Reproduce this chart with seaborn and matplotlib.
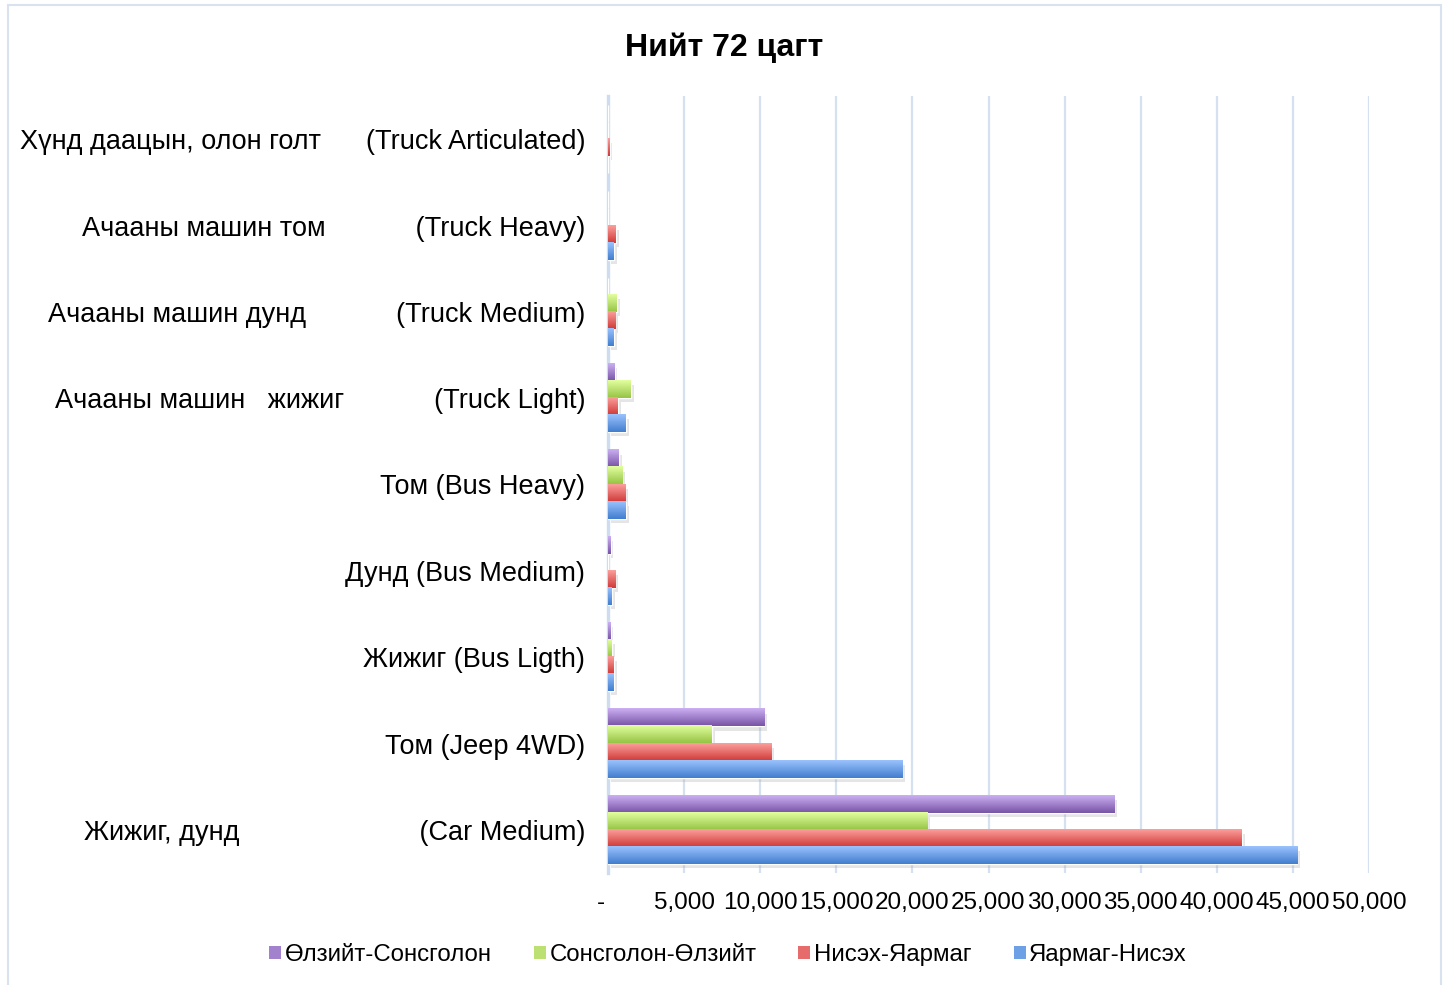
import numpy as np
import pandas as pd
import matplotlib
matplotlib.use("Agg")
import matplotlib.pyplot as plt
import matplotlib.patheffects as pe
from matplotlib.patches import Patch, Rectangle
from matplotlib.colors import LinearSegmentedColormap
import seaborn as sns

# ---- data -------------------------------------------------------------
categories = [
    "Хүнд даацын, олон голт      (Truck Articulated)",
    "Ачааны машин том            (Truck Heavy)",
    "Ачааны машин дунд            (Truck Medium)",
    "Ачааны машин   жижиг            (Truck Light)",
    "Том (Bus Heavy)",
    "Дунд (Bus Medium)",
    "Жижиг (Bus Ligth)",
    "Том (Jeep 4WD)",
    "Жижиг, дунд                        (Car Medium)",
]
series_names = ["Өлзийт-Сонсголон", "Сонсголон-Өлзийт", "Нисэх-Яармаг", "Яармаг-Нисэх"]
olziit_sonsgolon = [0, 0, 0, 430, 720, 170, 170, 10250, 33250]
sonsgolon_olziit = [0, 0, 580, 1500, 920, 0, 260, 6830, 20960]
niseh_yarmag = [100, 520, 460, 650, 1120, 460, 390, 10710, 41650]
yarmag_niseh = [0, 380, 380, 1180, 1180, 260, 390, 19320, 45270]
x_ticks = [0, 5000, 10000, 15000, 20000, 25000, 30000, 35000, 40000, 45000, 50000]
title = "Нийт 72 цагт"

# gradient colours (top, bottom) per series
grad = {
    "Өлзийт-Сонсголон": ("#cbb0f2", "#7954a6"),
    "Сонсголон-Өлзийт": ("#e2ffa0", "#96c444"),
    "Нисэх-Яармаг": ("#fc9f9c", "#cf3a38"),
    "Яармаг-Нисэх": ("#9ac2fd", "#427ecf"),
}
mid = {k: LinearSegmentedColormap.from_list(k, v)(0.5) for k, v in grad.items()}

df = pd.DataFrame({
    "category": np.repeat(categories, 4),
    "series": series_names * len(categories),
    "value": np.ravel(np.column_stack([olziit_sonsgolon, sonsgolon_olziit,
                                       niseh_yarmag, yarmag_niseh])),
})

# ---- style ------------------------------------------------------------
sns.set_theme(style="white")
plt.rcParams["font.family"] = ["Liberation Sans", "DejaVu Sans"]
plt.rcParams["text.color"] = "black"
plt.rcParams["xtick.color"] = "black"
plt.rcParams["ytick.color"] = "black"

fig = plt.figure(figsize=(14.45, 9.85), dpi=100)
ax = fig.add_axes([608 / 1445, 1 - 873 / 985, (1369 - 608) / 1445, (873 - 96) / 985])

sns.barplot(data=df, y="category", x="value", hue="series", order=categories,
            hue_order=series_names, palette=mid, orient="h", width=0.79,
            ax=ax, legend=False, saturation=1, zorder=2)

ax.set_xlim(0, 50000)
ylim = ax.get_ylim()

# gradient fill and soft drop shadow on each bar
bars = [p for p in ax.patches if isinstance(p, Rectangle)]
n = len(categories)
for i, p in enumerate(bars):
    s = series_names[i // n]
    if p.get_width() <= 0:
        continue
    p.set_path_effects([pe.SimplePatchShadow(offset=(2, -3), shadow_rgbFace="#9a9a9a", alpha=0.25),
                        pe.Normal()])
    cmap = LinearSegmentedColormap.from_list(s, grad[s])
    g = np.linspace(0, 1, 64).reshape(-1, 1)
    x0, y0 = p.get_x(), p.get_y()
    w, h = p.get_width(), p.get_height()
    ax.imshow(g, cmap=cmap, aspect="auto", origin="upper", vmin=0, vmax=1,
              extent=[x0, x0 + w, y0 + h, y0], zorder=3, interpolation="bilinear")
ax.set_ylim(ylim)
ax.set_xlim(0, 50000)

# axes styling
grid_c = "#d5e1f1"
ax.set_xticks(x_ticks)
ax.set_xticklabels(["-  "] + [f"{v:,.0f}" for v in x_ticks[1:]], fontsize=17.5)
ax.xaxis.grid(True, color=grid_c, linewidth=1.6, zorder=0)
ax.yaxis.grid(False)
ax.set_axisbelow(True)
for side in ["top", "right", "bottom"]:
    ax.spines[side].set_visible(False)
ax.spines["left"].set_color("#cfdcef")
ax.spines["left"].set_linewidth(2.4)
ax.spines["left"].set_zorder(1.5)
ax.tick_params(axis="x", length=0, pad=13.5, colors="black")
ax.tick_params(axis="y", length=0, pad=16.5, labelsize=19.5, colors="black")
ax.set_xlabel("")
ax.set_ylabel("")

fig.text(724 / 1445, 1 - 48 / 985, title, ha="center", va="center",
         fontsize=23, fontweight="bold", color="black")

handles = [Patch(facecolor=mid[s], edgecolor="none", label=s) for s in series_names]
fig.legend(handles=handles, loc="center", bbox_to_anchor=(728 / 1445, 1 - 955 / 985),
           ncol=4, frameon=False, fontsize=17.3, handlelength=0.5, handleheight=0.5,
           handletextpad=0.15, columnspacing=1.75, labelcolor="black")

# outer chart frame
fig.patches.append(Rectangle((8 / 1445, -0.02), (1441 - 8) / 1445, 1.02 - 5 / 985,
                             transform=fig.transFigure, fill=False,
                             edgecolor="#d9e3f0", linewidth=1.5))

fig.savefig("out.png", dpi=100, facecolor="white")
